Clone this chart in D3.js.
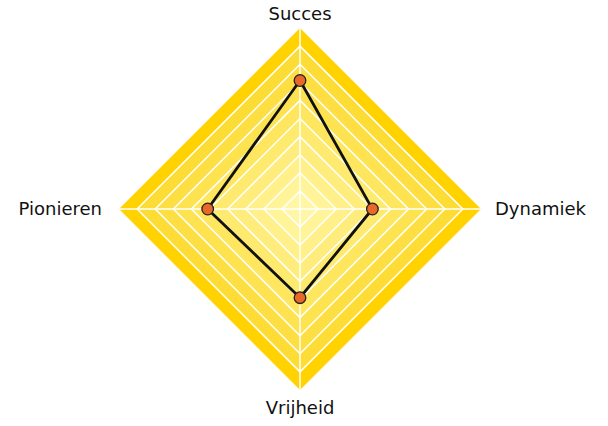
<!DOCTYPE html>
<html><head><meta charset="utf-8">
<script src="https://cdn.jsdelivr.net/npm/d3@7"></script>
<style>body{margin:0;background:#fff}svg{display:block}</style>
</head><body>
<script>
const categories = ["Succes", "Dynamiek", "Vrijheid", "Pionieren"];
const values = [0.71, 0.40, 0.49, 0.51];
const levels = [1,2,3,4,5,6,7,8,9,10];

const W = 608, H = 426, cx = 300, cy = 209, R = 181;
const svg = d3.select("body").append("svg").attr("width", W).attr("height", H);
const r = d3.scaleLinear().domain([0, 1]).range([0, R]);
const angle = i => -Math.PI/2 + i * 2*Math.PI/categories.length;
const pt = (i, v) => [cx + r(v)*Math.cos(angle(i)), cy + r(v)*Math.sin(angle(i))];
const color = d3.scaleLinear().domain([1, 9, 10]).range(["#fff7a6", "#fddc35", "#ffd200"]);

const g = svg.append("g");
levels.slice().reverse().forEach(l => {
  const v = l/levels.length;
  g.append("polygon")
    .attr("points", categories.map((c,i)=>pt(i,v).join(",")).join(" "))
    .attr("fill", color(l))
    .attr("stroke", l < levels.length ? "#fff" : "none")
    .attr("stroke-width", 1.5);
});
categories.forEach((c,i)=>{
  const [x,y] = pt(i,1);
  g.append("line").attr("x1",cx).attr("y1",cy).attr("x2",x).attr("y2",y)
    .attr("stroke","#fff").attr("stroke-width",1.5);
});

const line = d3.line().curve(d3.curveLinearClosed);
svg.append("path").attr("d", line(values.map((v,i)=>pt(i,v))))
  .attr("fill","none").attr("stroke","#111").attr("stroke-width",2.8);
svg.selectAll("circle.p").data(values).join("circle")
  .attr("cx",(v,i)=>pt(i,v)[0]).attr("cy",(v,i)=>pt(i,v)[1])
  .attr("r",5.8).attr("fill","#e8682a").attr("stroke","#222").attr("stroke-width",1.3);

const lab = [
  {a:"middle", dx:0, dy:-8},
  {a:"start", dx:14, dy:6},
  {a:"middle", dx:0, dy:24},
  {a:"end", dx:-17, dy:6}
];
categories.forEach((c,i)=>{
  const [x,y] = pt(i,1);
  svg.append("text").attr("x",x+lab[i].dx).attr("y",y+lab[i].dy)
    .attr("text-anchor",lab[i].a)
    .attr("font-family","DejaVu Sans, Verdana, sans-serif").attr("font-size",18)
    .attr("fill","#111").text(c);
});
</script>
</body></html>
